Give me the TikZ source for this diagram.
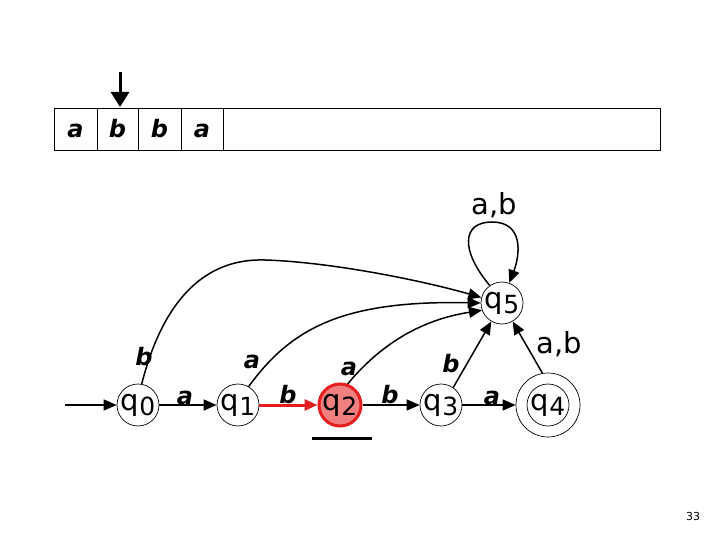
\documentclass[tikz,border=0pt]{standalone}
\usepackage{fontspec}
\setmainfont{DejaVu Sans}
\usetikzlibrary{arrows.meta}
\definecolor{redfill}{RGB}{240,128,128}
\definecolor{redline}{RGB}{228,30,30}
\begin{document}
\begin{tikzpicture}[x=1pt,y=-1pt,
  state/.style={circle,draw,line width=0.7pt,minimum size=42pt,inner sep=0pt,font=\fontsize{29}{29}\selectfont},
  edge/.style={line width=1.5pt,-{Triangle[length=13pt,width=11pt]}},
  lbl/.style={font=\fontsize{24}{24}\selectfont\bfseries\itshape,inner sep=0pt},
  lblup/.style={font=\fontsize{29}{29}\selectfont,inner sep=0pt},
  cell/.style={font=\fontsize{24}{24}\selectfont\bfseries\itshape,inner sep=0pt}]
\useasboundingbox (0,0) rectangle (720,540);
\newcommand{\qq}[1]{q\raisebox{-5pt}{\fontsize{25}{25}\selectfont #1}}
% tape
\draw[line width=0.8pt] (54,108) rectangle (660,150);
\foreach \x in {97,138,181,223} \draw[line width=0.8pt] (\x,108) -- (\x,150);
\node[cell] (t1) at (75.5,131) {a};
\node[cell] (t2) at (117.5,129) {b};
\node[cell] (t3) at (159.5,129) {b};
\node[cell] (t4) at (202,131) {a};
\coordinate (hd0) at (120,72);
\coordinate (hd1) at (120,107);
\draw[line width=3pt,-{Triangle[length=15pt,width=18pt]}] (hd0) -- (hd1);
% states
\node[state] (q0) at (138,405) {\qq{0}};
\node[state] (q1) at (238,405) {\qq{1}};
\node[state,fill=redfill,draw=redline,line width=3pt] (q2) at (340,405) {\qq{2}};
\node[state] (q3) at (441,405) {\qq{3}};
\node[state,minimum size=64pt] (q4) at (548,405) {};
\node[state] (q4in) at (548,405) {\qq{4}};
\node[state] (q5) at (502,303) {\qq{5}};
\coordinate (st) at (65,405);
\draw[edge] (st) -- (q0);
\draw[edge] (q0) -- (q1);
\draw[edge,draw=redline,fill=redline,line width=3pt] (q1) -- (q2);
\draw[edge] (q2) -- (q3);
\draw[edge] (q3) -- (q4);
\draw[edge] (q0.80) .. controls (163,300) and (205,258) .. (265,260) .. controls (330,262) and (420,280) .. (q5.165);
\draw[edge] (q1.60) .. controls (290,330) and (340,300) .. (q5.180);
\draw[edge] (q2.70) .. controls (380,345) and (420,320) .. (q5.200);
\draw[edge] (q3.55) -- (q5.240);
\draw[edge] (q4.100) -- (q5.300);
\draw[edge] (q5.125) .. controls (460,250) and (462,222) .. (492,222) .. controls (524,222) and (520,255) .. (q5.70);
% labels
\node[lbl] (l01) at (185,398) {a};
\node[lbl] (l12) at (288,395) {b};
\node[lbl] (l23) at (390,395) {b};
\node[lbl] (l34) at (492,398) {a};
\node[lbl] (l05) at (144,357) {b};
\node[lbl] (l15) at (252,362) {a};
\node[lbl] (l25) at (349,369) {a};
\node[lbl] (l35) at (451,364) {b};
\node[lblup] (l45) at (559,344) {a,b};
\node[lblup] (l55) at (494,205) {a,b};
% underline
\coordinate (u0) at (312,438);
\coordinate (u1) at (372,438);
\draw[line width=3pt] (u0) -- (u1);
\node[font=\fontsize{11}{11}\selectfont] (pg) at (693,516) {33};
\end{tikzpicture}
\end{document}
